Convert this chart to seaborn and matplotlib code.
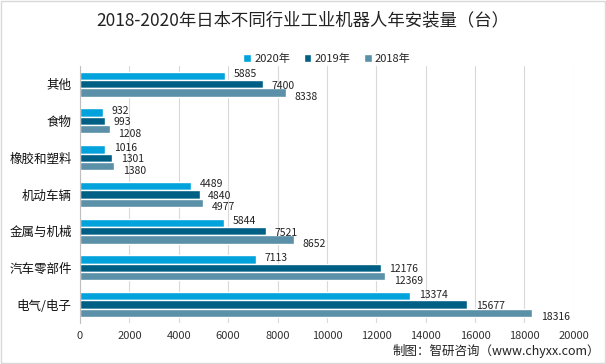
import matplotlib
matplotlib.use("Agg")
import matplotlib.pyplot as plt
import seaborn as sns
import pandas as pd

# 数据
categories = ['其他', '食物', '橡胶和塑料', '机动车辆', '金属与机械', '汽车零部件', '电气/电子']
years = ['2020年', '2019年', '2018年']
v2020 = [5885, 932, 1016, 4489, 5844, 7113, 13374]
v2019 = [7400, 993, 1301, 4840, 7521, 12176, 15677]
v2018 = [8338, 1208, 1380, 4977, 8652, 12369, 18316]
xticks = [0, 2000, 4000, 6000, 8000, 10000, 12000, 14000, 16000, 18000, 20000]

colors = ['#02A2DC', '#005F85', '#5A90A8']

sns.set_style('white')
plt.rcParams['font.family'] = ['Noto Sans CJK SC', 'DejaVu Sans']

rows = []
for y, vals in zip(years, [v2020, v2019, v2018]):
    for c, v in zip(categories, vals):
        rows.append({'行业': c, '年份': y, '数量': v})
df = pd.DataFrame(rows)

fig = plt.figure(figsize=(6.06, 3.64), dpi=100)
ax = fig.add_axes([0.132, 0.113, 0.815, 0.706])

sns.barplot(data=df, y='行业', x='数量', hue='年份', order=categories,
            hue_order=years, palette=colors, orient='h', width=0.68,
            saturation=1, ax=ax, legend=True)

# 数据标签，三个标签上下错开一点
for i, cont in enumerate(ax.containers):
    for j, bar in enumerate(cont):
        w = bar.get_width()
        ax.text(w + 350, j + (i - 1) * 0.31 + 0.04, '%d' % w,
                va='center', ha='left', fontsize=7.5, color='#222222')

ax.set_xlim(0, 20000)
ax.set_xticks(xticks)
ax.set_xlabel('')
ax.set_ylabel('')
ax.tick_params(axis='x', labelsize=8, length=0, colors='#333333', pad=6)
ax.tick_params(axis='y', labelsize=9, length=0, colors='#111111', pad=6)
ax.xaxis.grid(True, color='#D9D9D9', linewidth=0.8)
ax.set_axisbelow(True)
for s in ['top', 'right', 'bottom']:
    ax.spines[s].set_visible(False)
ax.spines['left'].set_color('#BFBFBF')

ax.legend(loc='lower center', bbox_to_anchor=(0.5, 0.99), ncol=3, frameon=False,
          fontsize=8, handlelength=0.7, handleheight=0.7, handletextpad=0.3,
          columnspacing=1.2, borderaxespad=0.0)

fig.text(0.5, 0.945, '2018-2020年日本不同行业工业机器人年安装量（台）', ha='center',
         va='center', fontsize=12.5, color='#222222')
fig.text(0.99, 0.035, '制图：智研咨询（www.chyxx.com）', ha='right', va='center',
         fontsize=9, color='#222222')

fig.patches.append(plt.Rectangle((0.002, 0.003), 0.996, 0.994, transform=fig.transFigure,
                                 fill=False, edgecolor='#D9D9D9', linewidth=1))

fig.savefig('out.png', dpi=100)
